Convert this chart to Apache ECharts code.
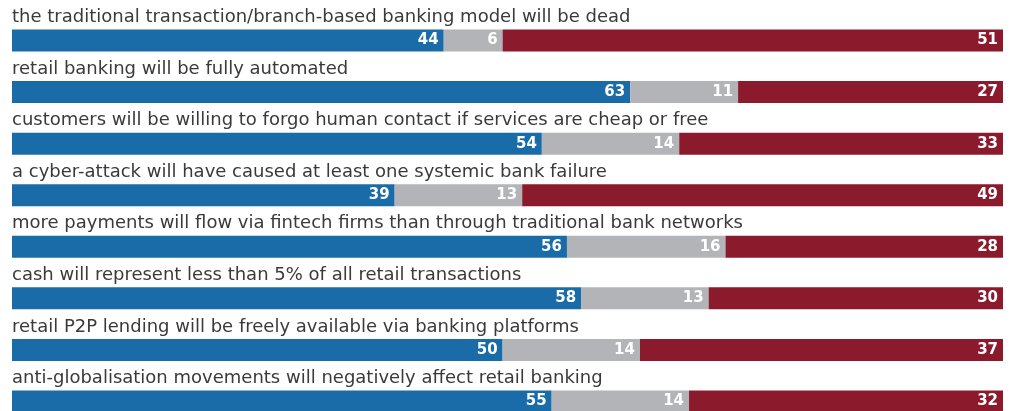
<!DOCTYPE html>
<html>
<head>
<meta charset="utf-8">
<script src="https://cdn.jsdelivr.net/npm/echarts@6/dist/echarts.min.js"></script>
<style>
  html, body { margin: 0; padding: 0; background: #fff; }
  #chart { width: 1019px; height: 411px; }
</style>
</head>
<body>
<div id="chart"></div>
<script>
  // statements, top to bottom
  const statements = [
    'the traditional transaction/branch-based banking model will be dead',
    'retail banking will be fully automated',
    'customers will be willing to forgo human contact if services are cheap or free',
    'a cyber-attack will have caused at least one systemic bank failure',
    'more payments will flow via fintech firms than through traditional bank networks',
    'cash will represent less than 5% of all retail transactions',
    'retail P2P lending will be freely available via banking platforms',
    'anti-globalisation movements will negatively affect retail banking'
  ];
  const agree = [44, 63, 54, 39, 56, 58, 50, 55];
  const neutral = [6, 11, 14, 13, 16, 13, 14, 14];
  const disagree = [51, 27, 33, 49, 28, 30, 37, 32];

  const colors = ['#1a6ca9', '#b3b4b8', '#8b1a2d'];

  // each bar fills the full width, so scale by its own total
  const totals = agree.map((v, i) => v + neutral[i] + disagree[i]);
  const share = arr => arr.map((v, i) => v / totals[i] * 100);

  const raw = [agree, neutral, disagree];

  const myChart = echarts.init(document.getElementById('chart'));
  const option = {
    animation: false,
    grid: { left: 12, right: 16, top: 14.7, height: 412.6, outerBoundsMode: 'none' },
    xAxis: { type: 'value', min: 0, max: 100, show: false },
    yAxis: {
      type: 'category',
      inverse: true,
      data: statements,
      axisLine: { show: false },
      axisTick: { show: false },
      axisLabel: {
        inside: true,
        margin: 0,
        align: 'left',
        verticalAlign: 'bottom',
        padding: [0, 0, 14, 0],
        fontFamily: 'DejaVu Sans',
        fontSize: 18,
        color: '#3a3a3a'
      },
      z: 10
    },
    series: raw.map((arr, k) => ({
      type: 'bar',
      stack: 'all',
      barWidth: 22,
      data: share(arr),
      itemStyle: { color: colors[k] },
      label: {
        show: true,
        position: 'insideRight',
        distance: 5,
        formatter: p => arr[p.dataIndex],
        color: '#fff',
        fontFamily: 'DejaVu Sans',
        fontWeight: 'bold',
        fontSize: 15
      }
    }))
  };
  myChart.setOption(option);
</script>
</body>
</html>
